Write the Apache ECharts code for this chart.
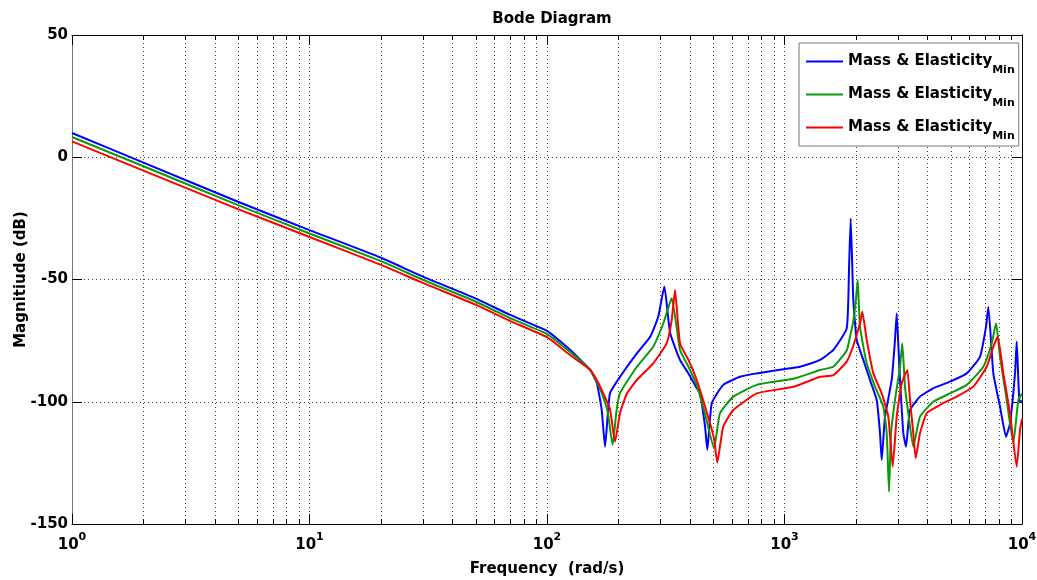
<!DOCTYPE html>
<html><head><meta charset="utf-8">
<script src="https://cdn.jsdelivr.net/npm/echarts@6/dist/echarts.min.js"></script>
<style>html,body{margin:0;padding:0;background:#fff}#c{width:1037px;height:580px}</style>
</head><body><div id="c"></div><script>
// ---- data ----
var titleText = 'Bode Diagram';
var xAxisName = 'Frequency  (rad/s)';
var yAxisName = 'Magnitiude (dB)';
var legendLabel = 'Mass & Elasticity';
var legendSub = 'Min';
var seriesNames = ['Mass & Elasticity Min (1)', 'Mass & Elasticity Min (2)', 'Mass & Elasticity Min (3)'];
var seriesColors = ['#0000ff', '#0a9a0a', '#ff0000'];
var yTicks = [-150, -100, -50, 0, 50];
var minorFreqs = [2,3,4,5,6,7,8,9, 20,30,40,50,60,70,80,90, 200,300,400,500,600,700,800,900, 2000,3000,4000,5000,6000,7000,8000,9000];

var freqBlue = [1,2,5,10,20,30,50,70,100,125, 152,162,170,175.5,184,203,239,272,294,312, 330,363,394,427,441,463,473,494,552,650, 764,1055,1162,1411,1605,1828,1870,1900,1949,2014, 2147,2291,2445,2524,2566,2650,2827,2919,2968,3044, 3164,3248,3376,3720,4231,4976,5851,6656,7055,7214, 7573,8081,8564,8902,9344,9499,9742,10000];
var magBlue = [9.9,-2.2,-18.2,-29.8,-41.1,-48.8,-57.7,-64.5,-71,-78.7, -87,-92.3,-103.4,-118.4,-96.6,-89.8,-80.2,-73.4,-65.2,-52.9, -71.9,-82.9,-88.4,-94.4,-96.6,-110.2,-119.7,-100.6,-93.1,-89.8, -88.4,-86.3,-85.7,-82.9,-78.8,-70,-44.8,-25,-58.4,-74.7, -82.9,-91.1,-99.3,-112.8,-123.8,-106.1,-91.1,-74.7,-63.8,-85.7, -112.9,-118.4,-103.4,-97.9,-94.5,-91.8,-88.4,-81.6,-69.3,-61.1, -88.4,-102,-114.3,-108.8,-88.4,-75.4,-99.3,-100];

var freqGreen = [1,2,5,10,20,30,50,70,100,125, 152,162,170,180,189,196,203,239,280,309, 335,352,363,394,427,463,505,535,609,764, 1100,1411,1605,1828,1887,1949,2000,2033,2079,2219, 2405,2606,2694,2754,2808,2919,3064,3133,3216,3321, 3486,3720,4231,4976,5851,6874,7456,7773,8081,8623, 9192,9648,10000];
var magGreen = [8.3,-3.7,-19.6,-31.2,-42.5,-50.1,-59,-65.8,-72.3,-79.6, -87,-91.8,-96.4,-104,-117.7,-104,-96.4,-85.7,-77.5,-67.9, -57.7,-70,-78.8,-85.7,-93.1,-105,-119,-104.7,-97.9,-93.1, -90.5,-87,-85.7,-79,-73.4,-67,-58,-50.2,-69.3,-84.3, -93.8,-102,-112.9,-136.8,-112.8,-99.3,-85.7,-76.1,-93.8,-104.7, -118.4,-106.1,-100,-96.6,-93.1,-85.7,-76.1,-67.9,-81.6,-99.3, -117,-99.3,-96.6];

var freqRed = [1,2,5,10,20,30,50,70,100,125, 152,162,170,184,193.4,203,217,239,280,319, 335,346,363,394,427,473,505,521,552,609, 764,1100,1411,1605,1828,1949,2079,2126,2219,2366, 2566,2736,2855,2968,3115,3289,3376,3486,3568,3720, 3968,4515,5311,6237,7103,7573,7903,8344,8902,9499, 9808,10000];
var magRed = [6.5,-5.5,-21.2,-32.6,-44,-51.4,-60.3,-67,-73.6,-80.9, -87,-91.1,-95.2,-103,-116.3,-104.6,-96.6,-91.1,-84.3,-76.1, -66.6,-54.3,-76.1,-82.9,-91.1,-105,-115,-124.9,-110.2,-103.4, -96.6,-93.8,-89.8,-89.1,-83.6,-77,-67.9,-63.2,-74.7,-88.4, -96.6,-106.1,-126.6,-106.1,-92.5,-87,-99.3,-112.9,-123.1,-112.9, -104.7,-101.3,-97.9,-93.8,-85.7,-77.5,-73.4,-88.4,-104.7,-126.6, -111.6,-107];

// ---- build ----
function zip(f, m) { return f.map(function (v, i) { return [v, m[i]]; }); }
var seriesData = [zip(freqBlue, magBlue), zip(freqGreen, magGreen), zip(freqRed, magRed)];
var FONT = 'DejaVu Sans';
var yMin = yTicks[0], yMax = yTicks[yTicks.length - 1];

var chart = echarts.init(document.getElementById('c'), null, { renderer: 'canvas' });

var lineSeries = seriesData.map(function (d, i) {
  return {
    name: seriesNames[i], type: 'line', data: d, showSymbol: false, symbol: 'none',
    smooth: 0.15,
    lineStyle: { color: seriesColors[i], width: 2 }, itemStyle: { color: seriesColors[i] },
    z: 5 + i, clip: true
  };
});

var minorSeries = {
  type: 'custom', silent: true, z: 2, clip: true,
  data: minorFreqs.map(function (f) { return [f, yMin]; }),
  encode: { x: 0, y: 1 },
  renderItem: function (params, api) {
    var f = api.value(0);
    var top = api.coord([f, yMax]);
    var bot = api.coord([f, yMin]);
    var x = Math.round(top[0]) + 0.5;
    return {
      type: 'group', children: [
        { type: 'line', shape: { x1: x, y1: top[1], x2: x, y2: bot[1] }, style: { stroke: '#444', lineWidth: 1, lineDash: [1, 3] } },
        { type: 'line', shape: { x1: x, y1: bot[1], x2: x, y2: bot[1] - 5 }, style: { stroke: '#000', lineWidth: 1 } },
        { type: 'line', shape: { x1: x, y1: top[1], x2: x, y2: top[1] + 5 }, style: { stroke: '#000', lineWidth: 1 } }
      ]
    };
  }
};

var gridLine = { show: true, lineStyle: { color: '#444', type: [1, 3], width: 1 } };

chart.setOption({
  animation: false,
  backgroundColor: '#fff',
  title: {
    text: titleText, left: 547, top: 7, textAlign: 'center',
    textStyle: { fontFamily: FONT, fontWeight: 'bold', fontSize: 15, color: '#000' }
  },
  legend: {
    data: seriesNames, orient: 'vertical', left: 799, top: 43,
    backgroundColor: '#fff', borderColor: '#777', borderWidth: 1,
    padding: [11, 4, 4, 7], itemGap: 11, itemWidth: 37, itemHeight: 2, icon: 'rect',
    formatter: function () { return '{t|' + legendLabel + '}{m|' + legendSub + '}'; },
    textStyle: {
      color: '#000',
      rich: {
        t: { fontFamily: FONT, fontWeight: 'bold', fontSize: 15, color: '#000', verticalAlign: 'middle' },
        m: { fontFamily: FONT, fontWeight: 'bold', fontSize: 11, color: '#000', padding: [18, 0, 0, 0], verticalAlign: 'bottom' }
      }
    }
  },
  grid: { left: 72, right: 15, top: 35, bottom: 56, containLabel: false, outerBoundsMode: 'none' },
  xAxis: [{
    type: 'log', logBase: 10, min: 1, max: 10000, position: 'bottom',
    name: xAxisName, nameLocation: 'middle', nameGap: 38,
    nameTextStyle: { fontFamily: FONT, fontWeight: 'bold', fontSize: 15, color: '#000' },
    axisLine: { onZero: false, lineStyle: { color: '#000', width: 1 } },
    axisTick: { inside: true, length: 10, lineStyle: { color: '#000' } },
    axisLabel: {
      margin: 8,
      formatter: function (v) { return '{b|10}{s|' + Math.round(Math.log10(v)) + '}'; },
      rich: {
        b: { fontFamily: FONT, fontWeight: 'bold', fontSize: 15, color: '#000', verticalAlign: 'bottom' },
        s: { fontFamily: FONT, fontWeight: 'bold', fontSize: 11, color: '#000', verticalAlign: 'top', padding: [0, 0, 10, 0] }
      }
    },
    splitLine: gridLine
  }, {
    type: 'log', logBase: 10, min: 1, max: 10000, position: 'top',
    axisLine: { onZero: false, lineStyle: { color: '#000', width: 1 } },
    axisTick: { inside: true, length: 10, lineStyle: { color: '#000' } },
    axisLabel: { show: false }, splitLine: { show: false }
  }],
  yAxis: [{
    type: 'value', min: yMin, max: yMax, interval: 50, position: 'left',
    name: yAxisName, nameLocation: 'middle', nameGap: 43, nameMoveOverlap: false,
    nameTextStyle: { fontFamily: FONT, fontWeight: 'bold', fontSize: 15, color: '#000' },
    axisLine: { show: true, onZero: false, lineStyle: { color: '#777', width: 1 } },
    axisTick: { show: true, inside: true, length: 10, lineStyle: { color: '#000' } },
    axisLabel: { margin: 4, fontFamily: FONT, fontWeight: 'bold', fontSize: 15, color: '#000' },
    splitLine: gridLine
  }, {
    type: 'value', min: yMin, max: yMax, interval: 50, position: 'right',
    axisLine: { show: true, onZero: false, lineStyle: { color: '#000', width: 1 } },
    axisTick: { show: true, inside: true, length: 10, lineStyle: { color: '#000' } },
    axisLabel: { show: false }, splitLine: { show: false }
  }],
  series: [minorSeries].concat(lineSeries)
});
</script></body></html>
